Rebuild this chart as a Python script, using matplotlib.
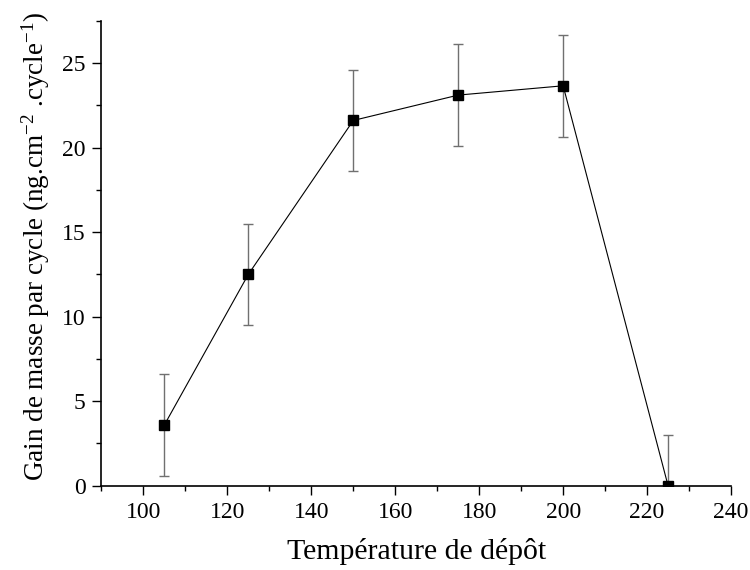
import numpy as np
import matplotlib
matplotlib.use('Agg')
import matplotlib.pyplot as plt
from matplotlib.ticker import MultipleLocator

plt.rcParams['font.family'] = ['Liberation Serif', 'DejaVu Serif']
plt.rcParams['mathtext.fontset'] = 'custom'
plt.rcParams['mathtext.rm'] = 'Liberation Serif'
plt.rcParams['mathtext.it'] = 'Liberation Serif:italic'

temperature = [105, 125, 150, 175, 200, 225]
gain = [3.6, 12.5, 21.6, 23.1, 23.65, 0.0]
erreur = [3, 3, 3, 3, 3, 3]

fig = plt.figure(figsize=(7.5, 5.7), dpi=100)
ax = fig.add_axes([0.1353, 0.1479, 0.9747 - 0.1353, 0.9637 - 0.1479])

ax.set_xlim(90, 240)
ax.set_ylim(0, 27.5)

ax.errorbar(temperature, gain, yerr=erreur, fmt='none', ecolor='#707070',
            elinewidth=1.0, capsize=3.6, capthick=1.0, zorder=2)

# segments between points, shortened a little at each end (gap around markers)
fig.canvas.draw()
pts = ax.transData.transform(np.column_stack([temperature, gain]))
gap = 4.0
inv = ax.transData.inverted()
for i in range(len(pts) - 1):
    p0, p1 = pts[i], pts[i + 1]
    d = p1 - p0
    n = np.hypot(*d)
    u = d / n
    a = inv.transform(p0 + u * gap)
    b = inv.transform(p1 - u * gap)
    ax.plot([a[0], b[0]], [a[1], b[1]], color='black', lw=0.8, zorder=3)

ax.plot(temperature, gain, linestyle='none', marker='s', markersize=6.5,
        color='black', zorder=4)

for s in ['top', 'right']:
    ax.spines[s].set_visible(False)
for s in ['left', 'bottom']:
    ax.spines[s].set_linewidth(1.2)

ax.xaxis.set_major_locator(MultipleLocator(20))
ax.xaxis.set_minor_locator(MultipleLocator(10))
ax.yaxis.set_major_locator(MultipleLocator(5))
ax.yaxis.set_minor_locator(MultipleLocator(2.5))
ax.tick_params(which='major', direction='out', length=6.5, width=1.0, labelsize=17, pad=5)
ax.tick_params(which='minor', direction='out', length=3.5, width=1.0)

ax.set_xlabel('Température de dépôt', fontsize=21.5, labelpad=11)
ax.set_ylabel(r'Gain de masse par cycle (ng.cm$^{-2}$ .cycle$^{-1}$)', fontsize=19.5, labelpad=7)
ax.yaxis.label.set_y(0.514)

fig.savefig('out.png', dpi=100)
